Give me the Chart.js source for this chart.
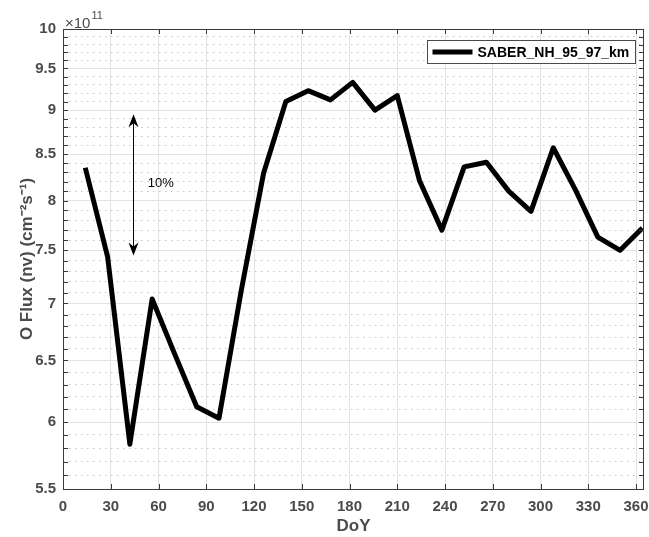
<!DOCTYPE html>
<html>
<head>
<meta charset="utf-8">
<script src="https://cdn.jsdelivr.net/npm/chart.js@4.4.1/dist/chart.umd.min.js"></script>
<style>
  html, body { margin: 0; padding: 0; background: #ffffff; }
  #wrap { width: 649px; height: 537px; position: relative; }
</style>
</head>
<body>
<div id="wrap"><canvas id="c" width="649" height="537"></canvas></div>
<script>
// ---- data (flux in units of 1e11) ----
const days = [14, 28, 42, 56, 70, 84, 98, 112, 126, 140, 154, 168, 182, 196, 210, 224, 238, 252, 266, 280, 294, 308, 322, 336, 350, 364];
const flux = [8.35, 7.44, 5.83, 7.04, 6.56, 6.12, 6.03, 7.12, 8.29, 9.10, 9.23, 9.12, 9.33, 9.00, 9.17, 8.21, 7.70, 8.36, 8.41, 8.10, 7.89, 8.57, 8.11, 7.63, 7.50, 7.72];
const seriesLabel = 'SABER_NH_95_97_km';

// ---- axis ticks ----
const xTicks = [0, 30, 60, 90, 120, 150, 180, 210, 240, 270, 300, 330, 360];
const yMajorTicks = [5.5, 6, 6.5, 7, 7.5, 8, 8.5, 9, 9.5, 10];
const yMinorTicks = [5.6, 5.7, 5.8, 5.9, 6.1, 6.2, 6.3, 6.4, 6.6, 6.7, 6.8, 6.9, 7.1, 7.2, 7.3, 7.4,
                     7.6, 7.7, 7.8, 7.9, 8.1, 8.2, 8.3, 8.4, 8.6, 8.7, 8.8, 8.9, 9.1, 9.2, 9.3, 9.4,
                     9.6, 9.7, 9.8, 9.9];
const xRange = [0, 365];
const yRange = [5.5, 10];
const exponentLabel = '11';

// ---- annotation (10% arrow) ----
const arrowDay = 44.2;
const arrowLow = 7.45;
const arrowHigh = 8.95;
const arrowText = '10%';
const arrowTextPos = [53.3, 8.18];

const AXIS_GRAY = '#4b4b4b';
const FRAME = '#3a3a3a';
const FONT = '"Liberation Sans", Arial, Helvetica, sans-serif';

const points = days.map((d, i) => ({ x: d, y: flux[i] }));

function zeroPad(scale) { scale.paddingLeft = 0; scale.paddingRight = 0; scale.paddingTop = 0; scale.paddingBottom = 0; }

const decorPlugin = {
  id: 'decor',
  afterDraw(chart) {
    const ctx = chart.ctx;
    const a = chart.chartArea;
    const xs = chart.scales.x, ys = chart.scales.y;
    ctx.save();

    // frame box
    ctx.strokeStyle = FRAME;
    ctx.lineWidth = 1;
    ctx.setLineDash([]);
    ctx.strokeRect(Math.round(a.left) + 0.5, Math.round(a.top) + 0.5, Math.round(a.right - a.left) - 1, Math.round(a.bottom - a.top));

    // inward ticks
    const tl = 5;
    ctx.beginPath();
    xTicks.forEach(v => {
      const px = Math.round(xs.getPixelForValue(v)) + 0.5;
      ctx.moveTo(px, a.bottom); ctx.lineTo(px, a.bottom - tl);
      ctx.moveTo(px, a.top); ctx.lineTo(px, a.top + tl);
    });
    yMajorTicks.concat(yMinorTicks).forEach(v => {
      const py = Math.round(ys.getPixelForValue(v)) + 0.5;
      ctx.moveTo(a.left, py); ctx.lineTo(a.left + tl, py);
      ctx.moveTo(a.right, py); ctx.lineTo(a.right - tl, py);
    });
    ctx.stroke();

    // exponent label
    ctx.fillStyle = AXIS_GRAY;
    ctx.textBaseline = 'alphabetic';
    ctx.textAlign = 'left';
    ctx.font = '15px ' + FONT;
    const ex = a.left + 2, ey = a.top - 1;
    ctx.fillText('\u00d710', ex, ey);
    const w = ctx.measureText('\u00d710').width;
    ctx.font = '11px ' + FONT;
    ctx.fillText(exponentLabel, ex + w + 1, ey - 9);

    // arrow annotation
    const ax = Math.round(xs.getPixelForValue(arrowDay)) + 0.5;
    const yTop = ys.getPixelForValue(arrowHigh);
    const yBot = ys.getPixelForValue(arrowLow);
    ctx.strokeStyle = '#000';
    ctx.fillStyle = '#000';
    ctx.lineWidth = 1;
    ctx.beginPath();
    ctx.moveTo(ax, yTop + 8); ctx.lineTo(ax, yBot - 8);
    ctx.stroke();
    const head = (tipY, dir) => {
      ctx.beginPath();
      ctx.moveTo(ax, tipY);
      ctx.lineTo(ax - 5, tipY + dir * 13);
      ctx.lineTo(ax, tipY + dir * 9);
      ctx.lineTo(ax + 5, tipY + dir * 13);
      ctx.closePath();
      ctx.fill();
    };
    head(yTop, 1);
    head(yBot, -1);
    ctx.font = '13px ' + FONT;
    ctx.textBaseline = 'middle';
    ctx.fillStyle = '#000';
    ctx.fillText(arrowText, xs.getPixelForValue(arrowTextPos[0]), ys.getPixelForValue(arrowTextPos[1]));

    // legend box
    const ds = chart.data.datasets[0];
    const lw = 208, lh = 23;
    const lx = Math.round(a.right - 9 - lw) + 0.5, ly = Math.round(a.top + 11) + 0.5;
    ctx.fillStyle = '#fff';
    ctx.fillRect(lx, ly, lw, lh);
    ctx.strokeStyle = '#4a4a4a';
    ctx.lineWidth = 1;
    ctx.strokeRect(lx, ly, lw, lh);
    ctx.strokeStyle = ds.borderColor;
    ctx.lineWidth = 5;
    ctx.beginPath();
    ctx.moveTo(lx + 5, ly + lh / 2); ctx.lineTo(lx + 45, ly + lh / 2);
    ctx.stroke();
    ctx.fillStyle = '#000';
    ctx.font = 'bold 14px ' + FONT;
    ctx.textBaseline = 'middle';
    ctx.fillText(ds.label, lx + 50, ly + lh / 2 + 1);

    ctx.restore();
  }
};

new Chart(document.getElementById('c'), {
  type: 'line',
  data: {
    datasets: [{
      label: seriesLabel,
      data: points,
      borderColor: '#000000',
      backgroundColor: '#000000',
      borderWidth: 5,
      pointRadius: 0,
      tension: 0,
      borderJoinStyle: 'round',
      borderCapStyle: 'butt',
      fill: false
    }]
  },
  options: {
    responsive: false,
    animation: false,
    devicePixelRatio: 1,
    layout: { padding: { top: 29, right: 5, left: 0, bottom: 0 } },
    plugins: { legend: { display: false }, tooltip: { enabled: false } },
    scales: {
      x: {
        type: 'linear',
        min: xRange[0],
        max: xRange[1],
        afterBuildTicks: s => { s.ticks = xTicks.map(v => ({ value: v })); },
        afterFit: s => { s.height = 48; zeroPad(s); },
        ticks: {
          autoSkip: false,
          maxRotation: 0,
          padding: 9,
          color: AXIS_GRAY,
          font: { family: FONT, size: 15, weight: 'bold' },
          callback: v => String(v)
        },
        grid: { color: '#e3e3e3', lineWidth: 1, drawTicks: false },
        border: { display: false },
        title: {
          display: true,
          text: 'DoY',
          color: AXIS_GRAY,
          font: { family: FONT, size: 17, weight: 'bold', lineHeight: 1.2 },
          padding: { top: 0, bottom: 0 }
        }
      },
      yMinor: {
        type: 'logarithmic',
        position: 'left',
        min: yRange[0],
        max: yRange[1],
        afterBuildTicks: s => { s.ticks = yMinorTicks.map(v => ({ value: v })); },
        afterFit: s => { s.width = 0; zeroPad(s); },
        ticks: { display: false },
        grid: { color: '#c4c4c4', lineWidth: 1, drawTicks: false },
        border: { display: false, dash: [1.5, 4.5] }
      },
      y: {
        type: 'logarithmic',
        position: 'left',
        min: yRange[0],
        max: yRange[1],
        afterBuildTicks: s => { s.ticks = yMajorTicks.map(v => ({ value: v })); },
        afterFit: s => { s.width = 63; zeroPad(s); },
        ticks: {
          autoSkip: false,
          padding: 7,
          color: AXIS_GRAY,
          font: { family: FONT, size: 15, weight: 'bold' },
          callback: v => String(v)
        },
        grid: { color: '#e3e3e3', lineWidth: 1, drawTicks: false },
        border: { display: false },
        title: {
          display: true,
          text: 'O Flux (nv) (cm\u207b\u00b2s\u207b\u00b9)',
          color: AXIS_GRAY,
          font: { family: FONT, size: 17, weight: 'bold', lineHeight: 1.2 },
          padding: { top: 17, bottom: 0 }
        }
      }
    }
  },
  plugins: [decorPlugin]
});
</script>
</body>
</html>
